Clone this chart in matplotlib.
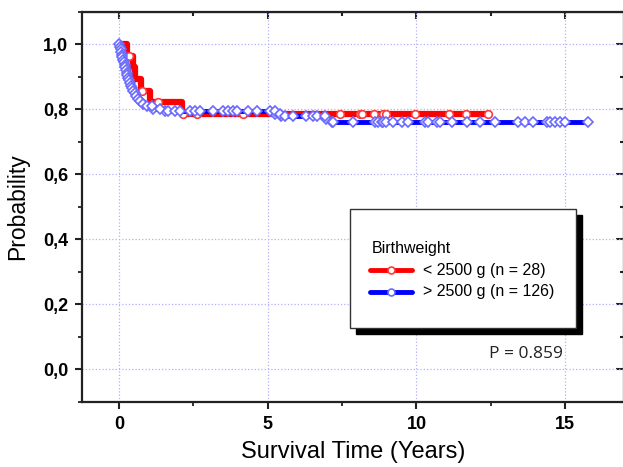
import numpy as np
import matplotlib.pyplot as plt
from matplotlib.patches import Rectangle
from matplotlib.lines import Line2D

# Kaplan-Meier steps, birthweight < 2500 g (n = 28)
red_t = [0.0, 0.28, 0.45, 0.52, 0.75, 1.05, 2.10]
red_s = [1.0, 0.964, 0.929, 0.893, 0.857, 0.821, 0.786]
red_end = 12.39
red_cens = [0.33, 0.78, 1.30, 2.15, 2.62, 4.17, 7.42, 8.09, 8.18, 8.58,
            8.86, 8.97, 9.94, 11.09, 11.66, 12.39]

# Kaplan-Meier steps, birthweight > 2500 g (n = 126)
blue_t = [0.00, 0.03, 0.05, 0.07, 0.09, 0.11, 0.13, 0.15, 0.18, 0.20,
          0.23, 0.25, 0.28, 0.31, 0.34, 0.37, 0.40, 0.44, 0.48, 0.52,
          0.57, 0.63, 0.70, 0.80, 0.95, 1.15, 1.55, 5.25, 5.45, 6.95, 7.15]
blue_s = [1.000, 0.992, 0.984, 0.976, 0.968, 0.960, 0.952, 0.944, 0.937, 0.929,
          0.921, 0.913, 0.905, 0.897, 0.889, 0.881, 0.873, 0.865, 0.857, 0.849,
          0.841, 0.833, 0.825, 0.817, 0.810, 0.802, 0.794, 0.786, 0.778, 0.770, 0.762]
blue_end = 15.78
blue_cens = [1.09, 1.37, 1.65, 1.87, 2.04, 2.38, 2.55, 2.71, 3.16, 3.50,
             3.67, 3.83, 3.95, 4.34, 4.62, 5.07, 5.24, 5.41, 5.57, 5.85,
             6.30, 6.52, 6.64, 6.92, 7.20, 7.87, 8.60, 8.71, 8.83, 8.88,
             8.99, 9.22, 9.50, 9.72, 10.28, 10.39, 10.68, 10.79, 11.18, 11.69,
             12.13, 12.64, 13.42, 13.64, 13.92, 14.38, 14.48, 14.65, 14.82, 14.99,
             15.78]

legend_title = 'Birthweight'
legend_labels = ['< 2500 g (n = 28)', '> 2500 g (n = 126)']
p_text = 'P = 0.859'

W, H = 623, 467
fig = plt.figure(figsize=(W / 100, H / 100), dpi=100)
# right spine sits just past the image edge, as in the reference
ax = fig.add_axes([82 / W, 1 - 402 / H, 542 / W, 390.3 / H])

def px(x, y):
    return (x / W, 1 - y / H)

def surv_at(t, s, times):
    t = np.asarray(t)
    s = np.asarray(s)
    return s[np.searchsorted(t, times, side='right') - 1]

red = '#ff0000'
blue = '#0000ff'

# red curve
ax.step(np.append(red_t, red_end), np.append(red_s, red_s[-1]), where='post',
        color=red, lw=4.5, solid_capstyle='butt', zorder=2)
ax.plot(red_cens, surv_at(red_t, red_s, red_cens), 'o', ms=5.5, mfc='white',
        mec='#ff3a3a', mew=1.2, zorder=3)

# blue curve
ax.step(np.append(blue_t, blue_end), np.append(blue_s, blue_s[-1]), where='post',
        color=blue, lw=3.5, solid_capstyle='butt', zorder=4)
ax.plot(blue_t, blue_s, 'D', ms=5, mfc='white', mec='#6a6aff', mew=1.2, zorder=5)
ax.plot(blue_cens, surv_at(blue_t, blue_s, blue_cens), 'D', ms=5, mfc='white',
        mec='#6a6aff', mew=1.2, zorder=5)

ax.set_xlim(-1.25, 16.98)
ax.set_ylim(-0.1, 1.1)
ax.set_xticks([0, 5, 10, 15])
ax.set_xticks([2.5, 7.5, 12.5], minor=True)
ax.set_yticks(np.arange(0, 1.01, 0.2))
ax.set_yticks(np.arange(-0.1, 1.1, 0.2), minor=True)
ax.set_yticklabels([f'{v:.1f}'.replace('.', ',') for v in np.arange(0, 1.01, 0.2)])
ax.grid(True, which='major', color='#b0b0ff', ls=':', lw=0.9, zorder=0)

for lab in ax.get_xticklabels() + ax.get_yticklabels():
    lab.set_fontfamily('Liberation Sans')
    lab.set_fontweight('bold')
    lab.set_fontsize(13)
ax.tick_params(which='major', direction='out', length=5, width=1.5, color='#222222', pad=5)
ax.tick_params(which='minor', direction='out', length=3, width=1.3, color='#222222')

for sp in ax.spines.values():
    sp.set_linewidth(1.6)
    sp.set_color('#222222')

top = ax.secondary_xaxis('top')
top.set_xticks([0, 5, 10, 15])
top.set_xticks([2.5, 7.5, 12.5], minor=True)
top.tick_params(which='both', direction='in', labeltop=False, width=1.5, color='#222222')
top.tick_params(which='major', length=5)
top.tick_params(which='minor', length=3)
right = ax.secondary_yaxis('right')
right.set_yticks(np.arange(0, 1.01, 0.2))
right.set_yticks(np.arange(-0.1, 1.1, 0.2), minor=True)
right.tick_params(which='both', direction='in', labelright=False, width=1.5, color='#222222')
right.tick_params(which='major', length=6)
right.tick_params(which='minor', length=3)

ax.set_xlabel('Survival Time (Years)', fontfamily='Liberation Sans', fontsize=17, labelpad=6)
ax.set_ylabel('Probability', fontfamily='Liberation Sans', fontsize=16.5, labelpad=10)

# legend box with black drop shadow
x0, y0, x1, y1 = 350, 209, 576, 328
fig.patches.append(Rectangle(px(x0 + 6, y1 + 6), (x1 - x0) / W, (y1 - y0) / H,
                             transform=fig.transFigure, facecolor='black',
                             edgecolor='black', zorder=10))
fig.patches.append(Rectangle(px(x0, y1), (x1 - x0) / W, (y1 - y0) / H,
                             transform=fig.transFigure, facecolor='white',
                             edgecolor='#333333', lw=1.0, zorder=11))
fig.text(*px(372, 249), legend_title, fontfamily='Liberation Sans', fontsize=11.5,
         va='center', ha='left', zorder=12)
for i, (lab, c, mc) in enumerate(zip(legend_labels, [red, blue], ['#ff3a3a', '#6a6aff'])):
    yy = [270, 291.5][i]
    xa, ya = px(370, yy)
    xb, _ = px(412, yy)
    fig.lines.append(Line2D([xa, xb], [ya, ya], transform=fig.transFigure,
                            color=c, lw=3.5, solid_capstyle='round', zorder=12))
    fig.lines.append(Line2D([(xa + xb) / 2], [ya], transform=fig.transFigure,
                            marker='o', ms=5, mfc='white', mec=mc, mew=1.2, zorder=13))
    fig.text(*px(423, yy), lab, fontfamily='Liberation Sans', fontsize=11.5,
             va='center', ha='left', zorder=12)

fig.text(*px(489, 354), p_text, fontfamily='Open Sans', fontsize=12.5,
         va='center', ha='left', color='#222222')

fig.savefig('out.png', dpi=100)
